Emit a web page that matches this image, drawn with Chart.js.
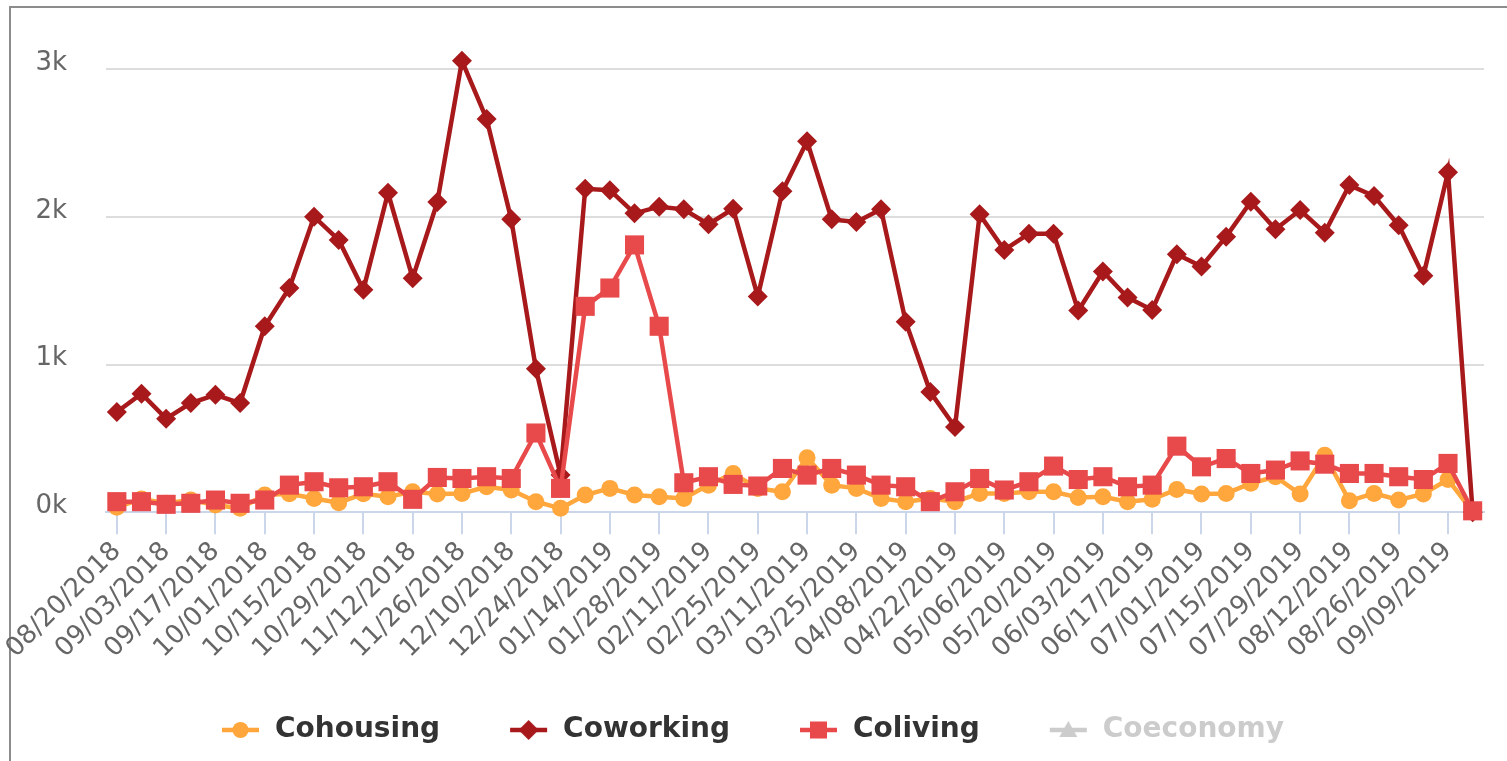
<!DOCTYPE html>
<html><head><meta charset="utf-8">
<script src="https://cdn.jsdelivr.net/npm/chart.js@4/dist/chart.umd.min.js"></script>
<style>
html,body{margin:0;padding:0;background:#fff;overflow:hidden;width:1507px;height:761px}
#frame{position:absolute;left:9px;top:6px;width:2000px;height:2000px;border-left:2px solid #8c8c8c;border-top:2px solid #8c8c8c;box-sizing:border-box}
#wrap{position:absolute;left:0;top:0;width:1507px;height:761px}
</style></head><body>
<div id="frame"></div>
<div id="wrap"><canvas id="c" width="1507" height="761"></canvas></div>
<script>
const weekLabels = [
  "08/20/2018","08/27/2018","09/03/2018","09/10/2018","09/17/2018","09/24/2018","10/01/2018","10/08/2018",
  "10/15/2018","10/22/2018","10/29/2018","11/05/2018","11/12/2018","11/19/2018","11/26/2018","12/03/2018",
  "12/10/2018","12/17/2018","12/24/2018","12/31/2018","01/14/2019","01/21/2019","01/28/2019","02/04/2019",
  "02/11/2019","02/18/2019","02/25/2019","03/04/2019","03/11/2019","03/18/2019","03/25/2019","04/01/2019",
  "04/08/2019","04/15/2019","04/22/2019","04/29/2019","05/06/2019","05/13/2019","05/20/2019","05/27/2019",
  "06/03/2019","06/10/2019","06/17/2019","06/24/2019","07/01/2019","07/08/2019","07/15/2019","07/22/2019",
  "07/29/2019","08/05/2019","08/12/2019","08/19/2019","08/26/2019","09/02/2019","09/09/2019","09/16/2019"
];
const cohousing = [35, 90, 61, 83, 49, 27, 117, 125, 94, 65, 125, 105, 139, 124, 128, 173, 151, 72, 27, 117,
  162, 117, 105, 94, 184, 263, 162, 139, 370, 184, 162, 94, 72, 94, 72, 128, 128, 139, 139, 101,
  105, 72, 88, 155, 124, 128, 196, 241, 124, 387, 78, 128, 83, 124, 222, 5];
const coworking = [679, 803, 634, 740, 796, 740, 1260, 1519, 2002, 1845, 1507, 2164, 1586, 2101, 3058, 2664, 1984, 972, 252, 2191,
  2182, 2025, 2070, 2052, 1951, 2056, 1462, 2175, 2513, 1984, 1966, 2052, 1291, 814, 578, 2018, 1777, 1887, 1887, 1366,
  1631, 1455, 1370, 1748, 1665, 1867, 2103, 1917, 2047, 1894, 2216, 2142, 1944, 1602, 2304, 0];
const coliving = [72, 72, 54, 61, 83, 61, 83, 184, 207, 166, 173, 207, 88, 236, 229, 241, 229, 537, 162, 1395,
  1519, 1811, 1260, 200, 241, 189, 178, 297, 252, 297, 252, 184, 173, 72, 139, 229, 151, 207, 313, 222,
  241, 173, 184, 448, 308, 364, 263, 286, 348, 326, 263, 263, 241, 222, 331, 10];
const coeconomy = [];
const yTicks = [0, 1000, 2000, 3000];

const seriesNames = ["Cohousing", "Coworking", "Coliving", "Coeconomy"];
const seriesColors = ["#ffa73c", "#a8191b", "#e8494b", "#cccccc"];
const seriesShapes = ["circle", "rectRot", "rect", "triangle"];
const seriesData = [cohousing, coworking, coliving, coeconomy];

const SYM_LEFT = 56, SYM_LEN = 37, SYM_RIGHT = 2;
const SYM_W = SYM_LEFT + SYM_LEN + SYM_RIGHT;
function makeSymbol(color, shape) {
  const c = document.createElement('canvas');
  c.width = SYM_W; c.height = 24;
  const g = c.getContext('2d');
  g.strokeStyle = color; g.fillStyle = color; g.lineWidth = 4.5;
  g.beginPath(); g.moveTo(SYM_LEFT, 12); g.lineTo(SYM_LEFT + SYM_LEN, 12); g.stroke();
  const cx = SYM_LEFT + SYM_LEN / 2, cy = 12;
  g.beginPath();
  if (shape === 'circle') { g.arc(cx, cy, 8, 0, Math.PI * 2); }
  else if (shape === 'rectRot') { g.moveTo(cx, cy - 10); g.lineTo(cx + 10, cy); g.lineTo(cx, cy + 10); g.lineTo(cx - 10, cy); g.closePath(); }
  else if (shape === 'rect') { g.rect(cx - 8.5, cy - 8.5, 17, 17); }
  else { g.moveTo(cx, cy - 9); g.lineTo(cx + 9, cy + 7); g.lineTo(cx - 9, cy + 7); g.closePath(); }
  g.fill();
  return c;
}
const symbols = seriesColors.map((col, i) => makeSymbol(col, seriesShapes[i]));
const radii = [8.5, 10, 13.5, 9];
const orders = [2, 1, 0, 3];

Chart.defaults.font.family = "'DejaVu Sans', sans-serif";

const datasets = seriesNames.map((name, i) => ({
  label: name,
  data: seriesData[i].map((v, k) => ({ x: k, y: v })),
  borderColor: seriesColors[i],
  backgroundColor: seriesColors[i],
  pointBackgroundColor: seriesColors[i],
  pointStyle: seriesShapes[i],
  pointRadius: radii[i],
  pointHoverRadius: radii[i],
  pointBorderWidth: 0,
  borderWidth: 4.5,
  tension: 0,
  clip: false,
  order: orders[i],
  hidden: i === 3
}));

new Chart(document.getElementById('c'), {
  type: 'line',
  data: { datasets },
  options: {
    responsive: false,
    animation: false,
    events: [],
    layout: { padding: { left: -34, right: 23, top: 23.4, bottom: 7 } },
    plugins: {
      tooltip: { enabled: false },
      legend: {
        position: 'bottom',
        align: 'center',
        labels: {
          usePointStyle: true,
          pointStyleWidth: SYM_W,
          padding: 14,
          color: '#333333',
          font: { family: "'DejaVu Sans', sans-serif", size: 28, weight: 'bold' },
          generateLabels: chart => chart.data.datasets.map((ds, i) => ({
            text: ds.label,
            fillStyle: ds.borderColor,
            strokeStyle: ds.borderColor,
            lineWidth: 0,
            pointStyle: symbols[i],
            hidden: false,
            fontColor: chart.isDatasetVisible(i) ? '#333333' : '#cccccc',
            datasetIndex: i
          }))
        }
      }
    },
    scales: {
      x: {
        type: 'linear',
        min: -0.44,
        max: 55.46,
        afterBuildTicks: s => { s.ticks = weekLabels.map((l, i) => ({ value: i })).filter(t => t.value % 2 === 0); },
        afterFit: s => { s.height = 189.7; },
        ticks: {
          autoSkip: false,
          minRotation: 45,
          maxRotation: 45,
          padding: 2,
          color: '#666666',
          font: { size: 26 },
          callback: v => weekLabels[v]
        },
        grid: { drawOnChartArea: false, color: '#ccd6eb', lineWidth: 2, tickLength: 22 },
        border: { color: '#ccd6eb', width: 2 }
      },
      y: {
        min: 0,
        max: 3100,
        afterBuildTicks: s => { s.ticks = yTicks.map(v => ({ value: v })); },
        afterFit: s => { s.width = 140; },
        ticks: {
          padding: 39,
          labelOffset: -6,
          color: '#666666',
          font: { size: 26 },
          callback: v => (v / 1000) + 'k'
        },
        grid: {
          drawTicks: false,
          lineWidth: 2,
          color: c => (c.tick && c.tick.value === 0) ? 'rgba(0,0,0,0)' : '#dddddd'
        },
        border: { display: false }
      }
    }
  }
});
</script>
</body></html>
